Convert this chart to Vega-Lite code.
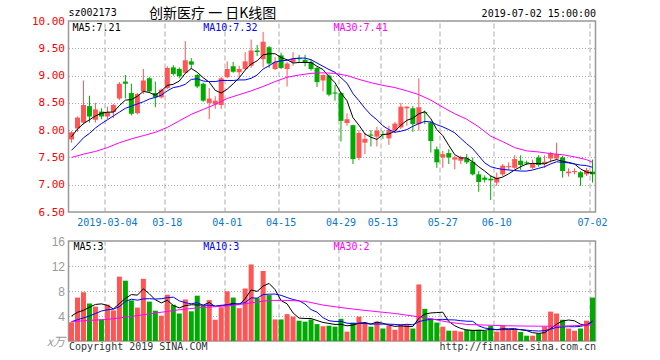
{
  "$schema": "https://vega.github.io/schema/vega-lite/v6.json",
  "background": "white",
  "padding": {"left": 30.5, "top": 5, "right": 6, "bottom": 0},
  "spacing": 29,
  "bounds": "flush",
  "datasets": {
    "k": [
      {"d":"2019-02-22","o":7.83,"h":7.98,"l":7.77,"c":7.96,"v":3.0,"m5":7.88,"m10":7.63,"vm5":4.0,"vm10":3.1},
      {"d":"2019-02-25","o":8.03,"h":8.25,"l":7.97,"c":8.23,"v":6.95,"m5":8.02,"m10":7.74,"vm5":4.6,"vm10":3.4},
      {"d":"2019-02-26","o":8.14,"h":8.91,"l":8.10,"c":8.46,"v":7.8,"m5":8.12,"m10":7.86,"vm5":4.9,"vm10":3.7},
      {"d":"2019-02-27","o":8.44,"h":8.63,"l":8.14,"c":8.25,"v":6.0,"m5":8.19,"m10":7.94,"vm5":5.4,"vm10":4.0},
      {"d":"2019-02-28","o":8.19,"h":8.50,"l":8.14,"c":8.38,"v":5.5,"m5":8.26,"m10":8.04,"vm5":5.85,"vm10":4.4},
      {"d":"2019-03-01","o":8.34,"h":8.40,"l":8.20,"c":8.25,"v":3.45,"m5":8.31,"m10":8.12,"vm5":5.94,"vm10":4.8},
      {"d":"2019-03-04","o":8.25,"h":8.43,"l":8.20,"c":8.33,"v":5.8,"m5":8.33,"m10":8.19,"vm5":5.71,"vm10":5.0},
      {"d":"2019-03-05","o":8.33,"h":8.48,"l":8.22,"c":8.46,"v":4.9,"m5":8.33,"m10":8.26,"vm5":5.13,"vm10":5.1},
      {"d":"2019-03-06","o":8.58,"h":8.88,"l":8.55,"c":8.85,"v":10.3,"m5":8.45,"m10":8.33,"vm5":5.99,"vm10":5.5},
      {"d":"2019-03-07","o":8.89,"h":9.01,"l":8.58,"c":8.85,"v":9.65,"m5":8.55,"m10":8.40,"vm5":6.82,"vm10":6.34},
      {"d":"2019-03-08","o":8.68,"h":8.85,"l":8.27,"c":8.30,"v":6.5,"m5":8.56,"m10":8.44,"vm5":7.43,"vm10":6.69},
      {"d":"2019-03-11","o":8.31,"h":8.68,"l":8.29,"c":8.66,"v":5.35,"m5":8.62,"m10":8.48,"vm5":7.34,"vm10":6.53},
      {"d":"2019-03-12","o":8.71,"h":9.12,"l":8.66,"c":8.91,"v":9.95,"m5":8.71,"m10":8.52,"vm5":8.35,"vm10":6.74},
      {"d":"2019-03-13","o":8.95,"h":8.97,"l":8.68,"c":8.71,"v":6.3,"m5":8.69,"m10":8.57,"vm5":7.55,"vm10":6.77},
      {"d":"2019-03-14","o":8.68,"h":8.89,"l":8.42,"c":8.60,"v":4.85,"m5":8.64,"m10":8.60,"vm5":6.59,"vm10":6.71},
      {"d":"2019-03-15","o":8.60,"h":8.76,"l":8.58,"c":8.74,"v":4.05,"m5":8.72,"m10":8.64,"vm5":6.10,"vm10":6.77},
      {"d":"2019-03-18","o":8.77,"h":9.17,"l":8.75,"c":9.14,"v":7.4,"m5":8.82,"m10":8.72,"vm5":6.51,"vm10":6.93},
      {"d":"2019-03-19","o":9.15,"h":9.19,"l":9.00,"c":9.03,"v":5.8,"m5":8.84,"m10":8.78,"vm5":5.68,"vm10":7.02},
      {"d":"2019-03-20","o":9.12,"h":9.15,"l":8.95,"c":8.99,"v":4.4,"m5":8.90,"m10":8.80,"vm5":5.30,"vm10":6.43},
      {"d":"2019-03-21","o":9.05,"h":9.63,"l":9.03,"c":9.28,"v":6.65,"m5":9.04,"m10":8.84,"vm5":5.66,"vm10":6.13},
      {"d":"2019-03-22","o":9.26,"h":9.32,"l":9.12,"c":9.20,"v":4.75,"m5":9.13,"m10":8.93,"vm5":5.80,"vm10":5.95},
      {"d":"2019-03-25","o":9.01,"h":9.03,"l":8.77,"c":8.80,"v":7.25,"m5":9.06,"m10":8.94,"vm5":5.77,"vm10":6.14},
      {"d":"2019-03-26","o":8.85,"h":8.87,"l":8.52,"c":8.54,"v":5.6,"m5":8.96,"m10":8.90,"vm5":5.73,"vm10":5.71},
      {"d":"2019-03-27","o":8.50,"h":8.77,"l":8.20,"c":8.58,"v":6.55,"m5":8.88,"m10":8.89,"vm5":6.16,"vm10":5.73},
      {"d":"2019-03-28","o":8.47,"h":8.62,"l":8.39,"c":8.54,"v":3.4,"m5":8.73,"m10":8.89,"vm5":5.51,"vm10":5.59},
      {"d":"2019-03-29","o":8.46,"h":8.97,"l":8.39,"c":8.95,"v":5.4,"m5":8.68,"m10":8.91,"vm5":5.64,"vm10":5.72},
      {"d":"2019-04-01","o":8.97,"h":9.26,"l":8.95,"c":9.12,"v":7.95,"m5":8.75,"m10":8.91,"vm5":5.78,"vm10":5.78},
      {"d":"2019-04-02","o":9.17,"h":9.25,"l":9.05,"c":9.07,"v":6.95,"m5":8.85,"m10":8.91,"vm5":6.05,"vm10":5.89},
      {"d":"2019-04-03","o":9.06,"h":9.18,"l":8.94,"c":9.12,"v":5.25,"m5":8.96,"m10":8.92,"vm5":5.79,"vm10":5.98},
      {"d":"2019-04-04","o":9.12,"h":9.43,"l":9.10,"c":9.26,"v":8.4,"m5":9.10,"m10":8.92,"vm5":6.79,"vm10":6.15},
      {"d":"2019-04-08","o":9.18,"h":9.66,"l":9.14,"c":9.46,"v":12.25,"m5":9.21,"m10":8.95,"vm5":8.16,"vm10":6.90},
      {"d":"2019-04-09","o":9.46,"h":9.56,"l":9.36,"c":9.43,"v":6.85,"m5":9.27,"m10":9.01,"vm5":7.94,"vm10":6.86},
      {"d":"2019-04-10","o":9.30,"h":9.80,"l":9.15,"c":9.62,"v":11.2,"m5":9.38,"m10":9.12,"vm5":8.79,"vm10":7.42},
      {"d":"2019-04-11","o":9.52,"h":9.54,"l":9.14,"c":9.22,"v":7.35,"m5":9.40,"m10":9.18,"vm5":9.21,"vm10":7.50},
      {"d":"2019-04-12","o":9.12,"h":9.34,"l":9.10,"c":9.25,"v":3.45,"m5":9.40,"m10":9.25,"vm5":8.22,"vm10":7.51},
      {"d":"2019-04-15","o":9.37,"h":9.42,"l":9.12,"c":9.14,"v":3.45,"m5":9.33,"m10":9.27,"vm5":6.46,"vm10":7.31},
      {"d":"2019-04-16","o":9.12,"h":9.25,"l":8.80,"c":9.22,"v":4.3,"m5":9.29,"m10":9.28,"vm5":5.95,"vm10":6.95},
      {"d":"2019-04-17","o":9.25,"h":9.43,"l":9.18,"c":9.31,"v":3.9,"m5":9.23,"m10":9.31,"vm5":4.49,"vm10":6.64},
      {"d":"2019-04-18","o":9.32,"h":9.38,"l":9.25,"c":9.30,"v":3.25,"m5":9.24,"m10":9.32,"vm5":3.67,"vm10":6.44},
      {"d":"2019-04-19","o":9.29,"h":9.38,"l":9.17,"c":9.23,"v":3.1,"m5":9.24,"m10":9.32,"vm5":3.60,"vm10":5.91},
      {"d":"2019-04-22","o":9.25,"h":9.30,"l":9.09,"c":9.12,"v":3.45,"m5":9.24,"m10":9.29,"vm5":3.60,"vm10":5.03},
      {"d":"2019-04-23","o":9.14,"h":9.16,"l":8.79,"c":8.88,"v":2.7,"m5":9.17,"m10":9.23,"vm5":3.28,"vm10":4.62},
      {"d":"2019-04-24","o":8.91,"h":9.02,"l":8.71,"c":9.01,"v":2.35,"m5":9.11,"m10":9.17,"vm5":2.97,"vm10":3.73},
      {"d":"2019-04-25","o":9.00,"h":9.02,"l":8.62,"c":8.65,"v":2.45,"m5":8.98,"m10":9.11,"vm5":2.81,"vm10":3.24},
      {"d":"2019-04-26","o":8.69,"h":8.83,"l":8.54,"c":8.67,"v":2.3,"m5":8.87,"m10":9.06,"vm5":2.65,"vm10":3.13},
      {"d":"2019-04-29","o":8.68,"h":8.70,"l":7.79,"c":8.17,"v":3.55,"m5":8.68,"m10":8.96,"vm5":2.67,"vm10":3.14},
      {"d":"2019-04-30","o":8.13,"h":8.31,"l":8.08,"c":8.20,"v":1.5,"m5":8.54,"m10":8.86,"vm5":2.43,"vm10":2.86},
      {"d":"2019-05-06","o":8.09,"h":8.10,"l":7.38,"c":7.47,"v":2.95,"m5":8.23,"m10":8.67,"vm5":2.55,"vm10":2.76},
      {"d":"2019-05-07","o":7.49,"h":8.00,"l":7.45,"c":7.95,"v":3.9,"m5":8.09,"m10":8.54,"vm5":2.84,"vm10":2.83},
      {"d":"2019-05-08","o":7.77,"h":7.95,"l":7.56,"c":7.84,"v":2.9,"m5":7.93,"m10":8.40,"vm5":2.96,"vm10":2.81},
      {"d":"2019-05-09","o":7.92,"h":8.00,"l":7.70,"c":7.90,"v":2.3,"m5":7.87,"m10":8.28,"vm5":2.71,"vm10":2.69},
      {"d":"2019-05-10","o":7.88,"h":8.06,"l":7.70,"c":7.99,"v":3.1,"m5":7.83,"m10":8.19,"vm5":3.03,"vm10":2.73},
      {"d":"2019-05-13","o":7.93,"h":7.99,"l":7.84,"c":7.91,"v":2.0,"m5":7.92,"m10":8.08,"vm5":2.84,"vm10":2.70},
      {"d":"2019-05-14","o":7.85,"h":8.08,"l":7.73,"c":8.00,"v":2.5,"m5":7.93,"m10":8.01,"vm5":2.56,"vm10":2.70},
      {"d":"2019-05-15","o":7.99,"h":8.15,"l":7.96,"c":8.12,"v":1.8,"m5":7.98,"m10":7.96,"vm5":2.34,"vm10":2.65},
      {"d":"2019-05-16","o":8.05,"h":8.50,"l":8.02,"c":8.43,"v":2.7,"m5":8.09,"m10":7.98,"vm5":2.42,"vm10":2.57},
      {"d":"2019-05-17","o":8.40,"h":8.44,"l":8.08,"c":8.43,"v":2.65,"m5":8.18,"m10":8.01,"vm5":2.33,"vm10":2.68},
      {"d":"2019-05-20","o":8.40,"h":8.44,"l":7.97,"c":8.11,"v":2.0,"m5":8.22,"m10":8.07,"vm5":2.33,"vm10":2.59},
      {"d":"2019-05-21","o":8.11,"h":8.95,"l":7.99,"c":8.42,"v":9.05,"m5":8.30,"m10":8.12,"vm5":3.64,"vm10":3.10},
      {"d":"2019-05-22","o":8.33,"h":8.36,"l":8.11,"c":8.31,"v":5.15,"m5":8.34,"m10":8.16,"vm5":4.31,"vm10":3.33},
      {"d":"2019-05-23","o":8.14,"h":8.16,"l":7.59,"c":7.80,"v":3.6,"m5":8.21,"m10":8.15,"vm5":4.49,"vm10":3.46},
      {"d":"2019-05-24","o":7.65,"h":7.70,"l":7.31,"c":7.41,"v":2.95,"m5":8.01,"m10":8.10,"vm5":4.55,"vm10":3.44},
      {"d":"2019-05-27","o":7.50,"h":7.62,"l":7.31,"c":7.56,"v":2.3,"m5":7.90,"m10":8.06,"vm5":4.61,"vm10":3.47},
      {"d":"2019-05-28","o":7.58,"h":7.65,"l":7.38,"c":7.50,"v":1.65,"m5":7.72,"m10":8.01,"vm5":3.13,"vm10":3.39},
      {"d":"2019-05-29","o":7.46,"h":7.53,"l":7.28,"c":7.50,"v":1.65,"m5":7.55,"m10":7.95,"vm5":2.43,"vm10":3.37},
      {"d":"2019-05-30","o":7.44,"h":7.53,"l":7.38,"c":7.50,"v":1.5,"m5":7.49,"m10":7.85,"vm5":2.01,"vm10":3.25},
      {"d":"2019-05-31","o":7.48,"h":7.56,"l":7.38,"c":7.41,"v":1.8,"m5":7.49,"m10":7.75,"vm5":1.78,"vm10":3.17},
      {"d":"2019-06-03","o":7.42,"h":7.50,"l":7.17,"c":7.19,"v":1.8,"m5":7.42,"m10":7.66,"vm5":1.68,"vm10":3.15},
      {"d":"2019-06-04","o":7.19,"h":7.25,"l":6.87,"c":7.05,"v":1.8,"m5":7.33,"m10":7.53,"vm5":1.71,"vm10":2.42},
      {"d":"2019-06-05","o":7.13,"h":7.17,"l":7.04,"c":7.09,"v":1.6,"m5":7.25,"m10":7.40,"vm5":1.70,"vm10":2.07},
      {"d":"2019-06-06","o":7.11,"h":7.17,"l":6.72,"c":7.08,"v":2.4,"m5":7.16,"m10":7.33,"vm5":1.88,"vm10":1.95},
      {"d":"2019-06-10","o":7.04,"h":7.22,"l":6.98,"c":7.13,"v":1.5,"m5":7.11,"m10":7.30,"vm5":1.82,"vm10":1.80},
      {"d":"2019-06-11","o":7.19,"h":7.38,"l":7.16,"c":7.35,"v":2.5,"m5":7.14,"m10":7.28,"vm5":1.96,"vm10":1.82},
      {"d":"2019-06-12","o":7.32,"h":7.41,"l":7.27,"c":7.34,"v":1.75,"m5":7.20,"m10":7.27,"vm5":1.95,"vm10":1.83},
      {"d":"2019-06-13","o":7.31,"h":7.54,"l":7.29,"c":7.47,"v":1.75,"m5":7.27,"m10":7.26,"vm5":1.98,"vm10":1.84},
      {"d":"2019-06-14","o":7.44,"h":7.54,"l":7.27,"c":7.36,"v":1.45,"m5":7.33,"m10":7.25,"vm5":1.79,"vm10":1.84},
      {"d":"2019-06-17","o":7.41,"h":7.44,"l":7.36,"c":7.39,"v":0.85,"m5":7.38,"m10":7.25,"vm5":1.66,"vm10":1.74},
      {"d":"2019-06-18","o":7.31,"h":7.46,"l":7.29,"c":7.38,"v":0.85,"m5":7.39,"m10":7.27,"vm5":1.33,"vm10":1.65},
      {"d":"2019-06-19","o":7.50,"h":7.54,"l":7.33,"c":7.36,"v":1.2,"m5":7.39,"m10":7.30,"vm5":1.22,"vm10":1.59},
      {"d":"2019-06-20","o":7.38,"h":7.54,"l":7.31,"c":7.42,"v":2.3,"m5":7.38,"m10":7.33,"vm5":1.33,"vm10":1.66},
      {"d":"2019-06-21","o":7.48,"h":7.60,"l":7.41,"c":7.58,"v":4.7,"m5":7.43,"m10":7.38,"vm5":1.98,"vm10":1.89},
      {"d":"2019-06-24","o":7.48,"h":7.77,"l":7.46,"c":7.56,"v":4.4,"m5":7.46,"m10":7.42,"vm5":2.69,"vm10":2.18},
      {"d":"2019-06-25","o":7.50,"h":7.53,"l":7.13,"c":7.25,"v":3.4,"m5":7.43,"m10":7.41,"vm5":3.20,"vm10":2.27},
      {"d":"2019-06-26","o":7.21,"h":7.30,"l":7.15,"c":7.24,"v":2.0,"m5":7.41,"m10":7.40,"vm5":3.36,"vm10":2.29},
      {"d":"2019-06-27","o":7.23,"h":7.30,"l":7.19,"c":7.25,"v":1.65,"m5":7.38,"m10":7.38,"vm5":3.23,"vm10":2.28},
      {"d":"2019-06-28","o":7.23,"h":7.25,"l":6.98,"c":7.13,"v":2.0,"m5":7.29,"m10":7.36,"vm5":2.69,"vm10":2.34},
      {"d":"2019-07-01","o":7.19,"h":7.31,"l":7.16,"c":7.27,"v":3.25,"m5":7.23,"m10":7.35,"vm5":2.46,"vm10":2.58},
      {"d":"2019-07-02","o":7.24,"h":7.46,"l":7.04,"c":7.19,"v":6.95,"m5":7.21,"m10":7.32,"vm5":3.17,"vm10":3.19}
    ],
    "m30": [
      {"d":"2019-02-22","m30":7.50},{"d":"2019-02-26","m30":7.56},{"d":"2019-02-28","m30":7.61},{"d":"2019-03-04","m30":7.68},
      {"d":"2019-03-06","m30":7.77},{"d":"2019-03-08","m30":7.84},{"d":"2019-03-12","m30":7.90},{"d":"2019-03-14","m30":7.96},
      {"d":"2019-03-18","m30":8.05},{"d":"2019-03-20","m30":8.17},{"d":"2019-03-22","m30":8.29},{"d":"2019-03-26","m30":8.38},
      {"d":"2019-03-28","m30":8.47},{"d":"2019-04-01","m30":8.58},{"d":"2019-04-03","m30":8.65},{"d":"2019-04-08","m30":8.72},
      {"d":"2019-04-10","m30":8.80},{"d":"2019-04-12","m30":8.89},{"d":"2019-04-16","m30":8.97},{"d":"2019-04-18","m30":9.01},
      {"d":"2019-04-22","m30":9.04},{"d":"2019-04-24","m30":9.05},{"d":"2019-04-26","m30":9.04},{"d":"2019-04-30","m30":9.00},
      {"d":"2019-05-07","m30":8.93},{"d":"2019-05-09","m30":8.87},{"d":"2019-05-13","m30":8.82},{"d":"2019-05-15","m30":8.78},
      {"d":"2019-05-17","m30":8.72},{"d":"2019-05-21","m30":8.65},{"d":"2019-05-23","m30":8.55},{"d":"2019-05-27","m30":8.42},
      {"d":"2019-05-29","m30":8.30},{"d":"2019-05-31","m30":8.20},{"d":"2019-06-04","m30":8.06},{"d":"2019-06-06","m30":7.89},
      {"d":"2019-06-11","m30":7.79},{"d":"2019-06-13","m30":7.68},{"d":"2019-06-17","m30":7.62},{"d":"2019-06-19","m30":7.60},
      {"d":"2019-06-21","m30":7.57},{"d":"2019-06-25","m30":7.55},{"d":"2019-06-27","m30":7.51},{"d":"2019-07-01","m30":7.46},
      {"d":"2019-07-02","m30":7.41}
    ],
    "v30": [
      {"d":"2019-02-22","vm30":3.1},{"d":"2019-02-27","vm30":3.3},{"d":"2019-03-04","vm30":3.45},{"d":"2019-03-07","vm30":3.8},
      {"d":"2019-03-12","vm30":4.2},{"d":"2019-03-15","vm30":4.6},{"d":"2019-03-20","vm30":5.0},{"d":"2019-03-25","vm30":5.3},
      {"d":"2019-03-28","vm30":5.5},{"d":"2019-04-02","vm30":5.7},{"d":"2019-04-08","vm30":6.1},{"d":"2019-04-11","vm30":6.5},
      {"d":"2019-04-16","vm30":6.5},{"d":"2019-04-19","vm30":6.35},{"d":"2019-04-24","vm30":5.75},{"d":"2019-04-29","vm30":5.35},
      {"d":"2019-05-07","vm30":5.0},{"d":"2019-05-10","vm30":4.7},{"d":"2019-05-15","vm30":4.4},{"d":"2019-05-20","vm30":4.0},
      {"d":"2019-05-23","vm30":3.55},{"d":"2019-05-28","vm30":3.0},{"d":"2019-05-31","vm30":2.65},{"d":"2019-06-05","vm30":2.55},
      {"d":"2019-06-11","vm30":2.45},{"d":"2019-06-14","vm30":2.4},{"d":"2019-06-19","vm30":2.37},{"d":"2019-06-24","vm30":2.37},
      {"d":"2019-06-27","vm30":2.45},{"d":"2019-07-02","vm30":2.6}
    ]
  },
  "vconcat": [
    {
      "width": 527,
      "height": 191,
      "layer": [
        {
          "data": {"name": "k"},
          "mark": {"type": "rule", "strokeWidth": 1},
          "encoding": {
            "x": {"field": "d", "type": "ordinal", "scale": {"type": "band", "paddingInner": 0, "paddingOuter": 0},
              "axis": {"orient": "top", "values": ["2019-03-04","2019-03-18","2019-04-01","2019-04-15","2019-04-29","2019-05-13","2019-05-27","2019-06-10","2019-07-02"],
                "bandPosition": 0.1, "labels": false, "ticks": false, "domain": false, "grid": true, "gridDash": [5, 3], "gridColor": "#aaaaaa",
                "title": "创新医疗 一 日K线图", "titleX": 80, "titleY": -7.3, "titleAlign": "left", "titleBaseline": "middle", "titleAngle": 0,
                "titleFont": "Noto Sans CJK SC", "titleFontSize": 14, "titleFontWeight": "normal", "titleColor": "#000000"}},
            "y": {"field": "l", "type": "quantitative", "scale": {"domain": [6.5, 10], "nice": false, "zero": false},
              "axis": {"values": [6.5, 7, 7.5, 8, 8.5, 9, 9.5, 10], "tickCount": 20, "format": ".2f", "labelColor": "#ff0000", "labelFont": "DejaVu Sans Mono", "labelFontSize": 11,
                "labelPadding": 4, "labelOverlap": false, "labelBaseline": "middle", "ticks": false, "domain": false, "grid": true, "gridDash": [1, 2], "gridColor": "#aaaaaa",
                "title": "2019-07-02 15:00:00", "titleX": 527, "titleY": -7.7, "titleAngle": 0, "titleAlign": "right", "titleBaseline": "middle",
                "titleFont": "DejaVu Sans Mono", "titleFontSize": 10, "titleFontWeight": "normal", "titleColor": "#000000"}},
            "y2": {"field": "h"},
            "color": {"condition": {"test": "datum.c >= datum.o", "value": "#ff5555"}, "value": "#00aa00"}
          }
        },
        {
          "data": {"name": "k"},
          "mark": {"type": "bar", "size": 5},
          "encoding": {
            "x": {"field": "d", "type": "ordinal"},
            "y": {"field": "o", "type": "quantitative"},
            "y2": {"field": "c"},
            "color": {"condition": {"test": "datum.c >= datum.o", "value": "#ff5555"}, "value": "#00aa00"}
          }
        },
        {
          "data": {"name": "k"},
          "mark": {"type": "line", "color": "#000000", "strokeWidth": 1},
          "encoding": {"x": {"field": "d", "type": "ordinal"}, "y": {"field": "m5", "type": "quantitative"}}
        },
        {
          "data": {"name": "k"},
          "mark": {"type": "line", "color": "#0000ff", "strokeWidth": 1},
          "encoding": {"x": {"field": "d", "type": "ordinal"}, "y": {"field": "m10", "type": "quantitative"}}
        },
        {
          "data": {"name": "m30"},
          "mark": {"type": "line", "color": "#ff00ff", "strokeWidth": 1},
          "encoding": {"x": {"field": "d", "type": "ordinal"}, "y": {"field": "m30", "type": "quantitative"}}
        },
        {
          "data": {"values": [{"t": "sz002173"}]},
          "mark": {"type": "text", "align": "left", "baseline": "middle", "font": "DejaVu Sans Mono", "fontSize": 10, "color": "#000000", "dx": -3},
          "encoding": {"x": {"datum": "2019-02-22", "type": "ordinal"}, "y": {"datum": 10.141, "type": "quantitative"}, "text": {"field": "t"}}
        },
        {
          "data": {"values": [{"t": "MA5:7.21"}]},
          "mark": {"type": "text", "align": "left", "baseline": "middle", "font": "DejaVu Sans Mono", "fontSize": 10, "color": "#000000", "dx": 1},
          "encoding": {"x": {"datum": "2019-02-22", "type": "ordinal"}, "y": {"datum": 9.877, "type": "quantitative"}, "text": {"field": "t"}}
        },
        {
          "data": {"values": [{"t": "MA10:7.32"}]},
          "mark": {"type": "text", "align": "left", "baseline": "middle", "font": "DejaVu Sans Mono", "fontSize": 10, "color": "#0000ff", "dx": 0},
          "encoding": {"x": {"datum": "2019-03-26", "type": "ordinal"}, "y": {"datum": 9.877, "type": "quantitative"}, "text": {"field": "t"}}
        },
        {
          "data": {"values": [{"t": "MA30:7.41"}]},
          "mark": {"type": "text", "align": "left", "baseline": "middle", "font": "DejaVu Sans Mono", "fontSize": 10, "color": "#ff00ff", "dx": -1.5},
          "encoding": {"x": {"datum": "2019-04-26", "type": "ordinal"}, "y": {"datum": 9.877, "type": "quantitative"}, "text": {"field": "t"}}
        }
      ]
    },
    {
      "width": 527,
      "height": 100,
      "layer": [
        {
          "data": {"name": "k"},
          "mark": {"type": "bar", "size": 5},
          "encoding": {
            "x": {"field": "d", "type": "ordinal", "scale": {"type": "band", "paddingInner": 0, "paddingOuter": 0},
              "axis": {"orient": "top", "values": ["2019-03-04","2019-03-18","2019-04-01","2019-04-15","2019-04-29","2019-05-13","2019-05-27","2019-06-10","2019-07-02"],
                "bandPosition": 0.1, "labelExpr": "datum.value == '2019-03-04' ? datum.value : substring(datum.value, 5)", "labelAngle": 0,
                "labelColor": "#0a78c8", "labelFont": "DejaVu Sans Mono", "labelFontSize": 10, "labelPadding": 19, "labelBaseline": "middle", "labelAlign": "center", "labelFlush": 8, "labelOverlap": false,
                "ticks": false, "domain": false, "grid": true, "gridDash": [5, 3], "gridColor": "#aaaaaa",
                "title": "http://finance.sina.com.cn", "titleX": 527, "titleY": 105.7, "titleAlign": "right", "titleBaseline": "middle", "titleAngle": 0,
                "titleFont": "DejaVu Sans Mono", "titleFontSize": 10, "titleFontWeight": "normal", "titleColor": "#333333"}},
            "y": {"field": "v", "type": "quantitative", "scale": {"domain": [0, 16], "nice": false},
              "axis": {"values": [0, 4, 8, 12, 16], "tickCount": 20, "labelExpr": "datum.value == 0 ? 'x万' : datum.label",
                "labelColor": "#999999", "labelFont": {"condition": {"test": "datum.value == 0", "value": "Noto Sans CJK SC"}, "value": "Liberation Sans"},
                "labelFontStyle": {"condition": {"test": "datum.value == 0", "value": "italic"}, "value": "normal"},
                "labelFontSize": 12, "labelPadding": 4, "labelOverlap": false, "labelBaseline": "middle", "ticks": false, "domain": false,
                "grid": true, "gridDash": [1, 2], "gridColor": "#aaaaaa",
                "title": "Copyright 2019 SINA.COM", "titleX": 0, "titleY": 105.7, "titleAlign": "left", "titleBaseline": "middle", "titleAngle": 0,
                "titleFont": "DejaVu Sans Mono", "titleFontSize": 10, "titleFontWeight": "normal", "titleColor": "#333333"}},
            "color": {"condition": {"test": "datum.c >= datum.o", "value": "#ff5555"}, "value": "#00aa00"}
          }
        },
        {
          "data": {"name": "k"},
          "mark": {"type": "line", "color": "#000000", "strokeWidth": 1},
          "encoding": {"x": {"field": "d", "type": "ordinal"}, "y": {"field": "vm5", "type": "quantitative"}}
        },
        {
          "data": {"name": "k"},
          "mark": {"type": "line", "color": "#0000ff", "strokeWidth": 1},
          "encoding": {"x": {"field": "d", "type": "ordinal"}, "y": {"field": "vm10", "type": "quantitative"}}
        },
        {
          "data": {"name": "v30"},
          "mark": {"type": "line", "color": "#ff00ff", "strokeWidth": 1},
          "encoding": {"x": {"field": "d", "type": "ordinal"}, "y": {"field": "vm30", "type": "quantitative"}}
        },
        {
          "data": {"values": [{"t": "MA5:3"}]},
          "mark": {"type": "text", "align": "left", "baseline": "middle", "font": "DejaVu Sans Mono", "fontSize": 10, "color": "#000000", "dx": 2},
          "encoding": {"x": {"datum": "2019-02-22", "type": "ordinal"}, "y": {"datum": 15.04, "type": "quantitative"}, "text": {"field": "t"}}
        },
        {
          "data": {"values": [{"t": "MA10:3"}]},
          "mark": {"type": "text", "align": "left", "baseline": "middle", "font": "DejaVu Sans Mono", "fontSize": 10, "color": "#0000ff", "dx": 0},
          "encoding": {"x": {"datum": "2019-03-26", "type": "ordinal"}, "y": {"datum": 15.04, "type": "quantitative"}, "text": {"field": "t"}}
        },
        {
          "data": {"values": [{"t": "MA30:2"}]},
          "mark": {"type": "text", "align": "left", "baseline": "middle", "font": "DejaVu Sans Mono", "fontSize": 10, "color": "#ff00ff", "dx": -1.5},
          "encoding": {"x": {"datum": "2019-04-26", "type": "ordinal"}, "y": {"datum": 15.04, "type": "quantitative"}, "text": {"field": "t"}}
        }
      ]
    }
  ],
  "config": {
    "view": {"stroke": "#999999", "strokeWidth": 1.5},
    "axis": {"ticks": false, "domain": false, "labelOverlap": false}
  }
}
